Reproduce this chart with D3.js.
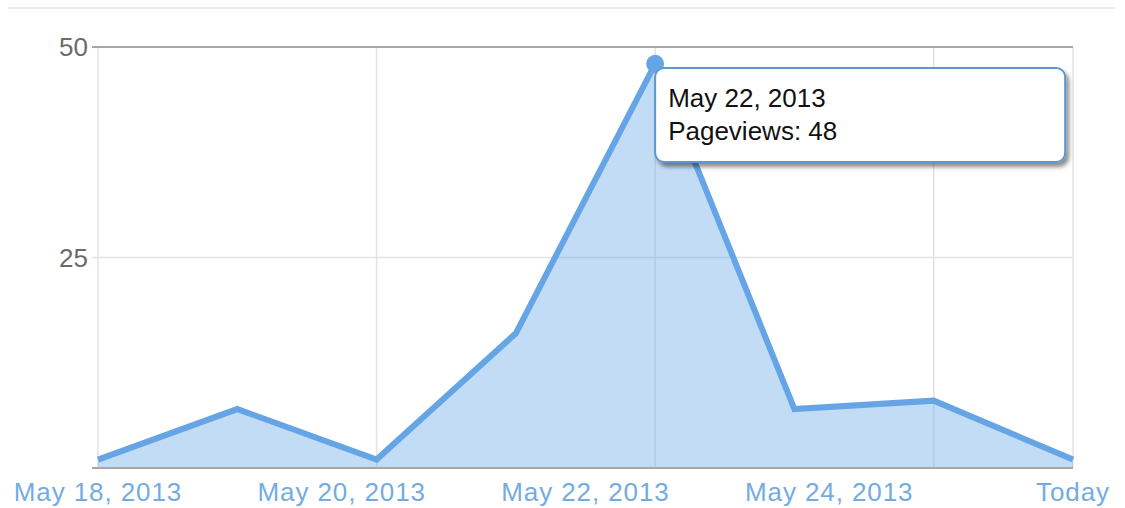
<html>
<head>
<script src="https://d3js.org/d3.v7.min.js"></script>
<style>
  body { margin: 0; background: #fff; }
  text { font-family: 'Liberation Sans', Arial, Helvetica, sans-serif; }
</style>
</head>
<body>
<script>

// pageviews per day
var days = ['2013-05-18', '2013-05-19', '2013-05-20', '2013-05-21',
            '2013-05-22', '2013-05-23', '2013-05-24', '2013-05-25'];
var pageviews = [1, 7, 1, 16, 48, 7, 8, 1];

var xLabels = ['May 18, 2013', 'May 20, 2013', 'May 22, 2013', 'May 24, 2013', 'Today'];
var gridDays = ['2013-05-18', '2013-05-20', '2013-05-22', '2013-05-24', '2013-05-25'];
var yTicks = [0, 25, 50];

var focusIndex = 4;
var tooltipLines = ['May 22, 2013', 'Pageviews: 48'];

var width = 1125, height = 508;
var plotL = 98, plotR = 1073, plotT = 47, plotB = 468;

var parse = d3.timeParse('%Y-%m-%d');
var data = days.map(function(d, i) { return {date: parse(d), value: pageviews[i]}; });

var x = d3.scaleTime()
    .domain(d3.extent(data, function(d) { return d.date; }))
    .range([plotL, plotR]);
var y = d3.scaleLinear().domain([0, 50]).range([plotB, plotT]);
var xLab = d3.scalePoint().domain(xLabels).range([plotL, plotR]);

var svg = d3.select('body').append('svg')
    .attr('width', width)
    .attr('height', height);

var defs = svg.append('defs');
var shadow = defs.append('filter').attr('id', 'shadow')
    .attr('x', '-10%').attr('y', '-10%').attr('width', '130%').attr('height', '140%');
shadow.append('feDropShadow')
    .attr('dx', 3).attr('dy', 4).attr('stdDeviation', 2)
    .attr('flood-color', '#000').attr('flood-opacity', 0.45);

// thin rule across the top
svg.append('line')
    .attr('x1', 8).attr('x2', 1115).attr('y1', 8).attr('y2', 8)
    .attr('stroke', '#ebebeb').attr('stroke-width', 2);

// vertical gridlines
svg.append('g').selectAll('line')
    .data(gridDays)
    .join('line')
    .attr('x1', function(d) { return x(parse(d)); })
    .attr('x2', function(d) { return x(parse(d)); })
    .attr('y1', plotT).attr('y2', plotB)
    .attr('stroke', '#e3e3e3').attr('stroke-width', 1.5);

// horizontal gridlines (top and base darker)
svg.append('g').selectAll('line')
    .data(yTicks)
    .join('line')
    .attr('x1', plotL - 6).attr('x2', plotR)
    .attr('y1', function(d) { return y(d); })
    .attr('y2', function(d) { return y(d); })
    .attr('stroke', function(d) { return d === 25 ? '#e3e3e3' : '#a6a6a6'; })
    .attr('stroke-width', function(d) { return d === 25 ? 1.5 : 2; });

svg.append('g').selectAll('text')
    .data(yTicks.filter(function(d) { return d > 0; }))
    .join('text')
    .attr('x', plotL - 10)
    .attr('y', function(d) { return y(d) + 9; })
    .attr('text-anchor', 'end')
    .attr('font-size', 26)
    .attr('fill', '#6b6b6b')
    .text(function(d) { return d; });

// area + line
var area = d3.area()
    .x(function(d) { return x(d.date); })
    .y0(y(0))
    .y1(function(d) { return y(d.value); });

var line = d3.line()
    .x(function(d) { return x(d.date); })
    .y(function(d) { return y(d.value); });

svg.append('path')
    .datum(data)
    .attr('d', area)
    .attr('fill', '#6aa8e6')
    .attr('fill-opacity', 0.4);

svg.append('path')
    .datum(data)
    .attr('d', line)
    .attr('fill', 'none')
    .attr('stroke', '#66a5e5')
    .attr('stroke-width', 6)
    .attr('stroke-linejoin', 'miter');

// baseline redrawn on top of the area
svg.append('line')
    .attr('x1', plotL).attr('x2', plotR)
    .attr('y1', y(0)).attr('y2', y(0))
    .attr('stroke', '#a6a6a6').attr('stroke-width', 2);

// x labels
svg.append('g').selectAll('text')
    .data(xLabels)
    .join('text')
    .attr('x', function(d) { return xLab(d); })
    .attr('y', 501)
    .attr('text-anchor', 'middle')
    .attr('font-size', 26)
    .attr('letter-spacing', 0.9)
    .attr('fill', '#74ace2')
    .text(function(d) { return d; });

// focused point + tooltip
var fp = data[focusIndex];
svg.append('circle')
    .attr('cx', x(fp.date))
    .attr('cy', y(fp.value))
    .attr('r', 9)
    .attr('fill', '#66a5e5');

var tip = svg.append('g')
    .attr('transform', 'translate(' + x(fp.date) + ',68)');
tip.append('rect')
    .attr('width', 410).attr('height', 94)
    .attr('rx', 9)
    .attr('fill', '#fff')
    .attr('stroke', '#5d97d2')
    .attr('stroke-width', 2)
    .attr('filter', 'url(#shadow)');
tip.selectAll('text')
    .data(tooltipLines)
    .join('text')
    .attr('x', 13)
    .attr('y', function(d, i) { return 39 + i * 33; })
    .attr('font-size', 26)
    .attr('fill', '#111')
    .text(function(d) { return d; });

</script>
</body>
</html>
